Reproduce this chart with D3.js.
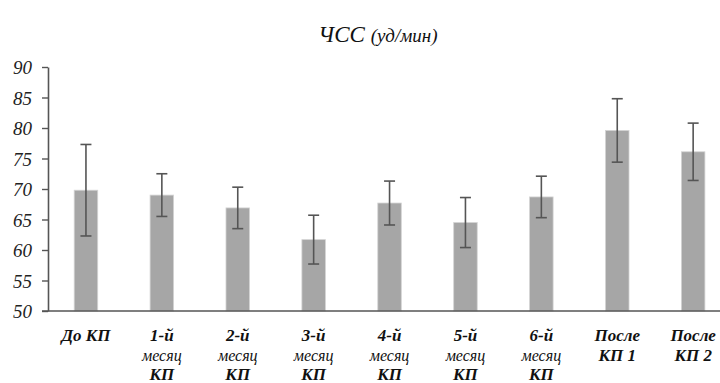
<!DOCTYPE html>
<html><head><meta charset="utf-8"><script src="https://cdn.jsdelivr.net/npm/d3@7"></script></head>
<body style="margin:0">
<script>
// categories (each entry = label lines)
var categories = [
  ["До КП"],
  ["1-й", "месяц", "КП"],
  ["2-й", "месяц", "КП"],
  ["3-й", "месяц", "КП"],
  ["4-й", "месяц", "КП"],
  ["5-й", "месяц", "КП"],
  ["6-й", "месяц", "КП"],
  ["После", "КП 1"],
  ["После", "КП 2"]
];
var means = [69.8, 69.0, 66.9, 61.7, 67.7, 64.5, 68.7, 79.6, 76.1];
var errors = [7.5, 3.5, 3.4, 4.0, 3.6, 4.1, 3.4, 5.2, 4.7];
var yTicks = [50, 55, 60, 65, 70, 75, 80, 85, 90];

var fontName = "Tinos, 'Liberation Serif', 'Times New Roman', FreeSerif, serif";
var width = 720, height = 383;
var margin = { top: 67, left: 48, bottom: 72 };

var svg = d3.select("body").append("svg")
  .attr("width", width)
  .attr("height", height);

var x = d3.scaleBand()
  .domain(d3.range(categories.length))
  .range([margin.left, margin.left + 9 * 75.9])
  .paddingInner(0.69)
  .paddingOuter(0.345);

var y = d3.scaleLinear()
  .domain([50, 90])
  .range([height - margin.bottom, margin.top]);

// title
var title = svg.append("text")
  .attr("x", 378)
  .attr("y", 42)
  .attr("text-anchor", "middle")
  .attr("font-size", 23)
  .attr("fill", "#111")
  .style("font-family", fontName)
  .style("font-style", "italic");
title.append("tspan").text("ЧСС ");
title.append("tspan").attr("font-size", 19).text("(уд/мин)");

// bars
svg.selectAll("rect.bar")
  .data(means)
  .enter().append("rect")
  .attr("class", "bar")
  .attr("x", function (d, i) { return x(i); })
  .attr("width", x.bandwidth())
  .attr("y", function (d) { return y(d); })
  .attr("height", function (d) { return y(50) - y(d); })
  .attr("fill", "#a6a6a6")
  .attr("stroke", "#d4d4d4")
  .attr("stroke-width", 0.8);

// error bars
var err = svg.selectAll("g.err")
  .data(means)
  .enter().append("g")
  .attr("class", "err")
  .attr("stroke", "#555")
  .attr("stroke-width", 1.6);

err.append("line")
  .attr("x1", function (d, i) { return x(i) + x.bandwidth() / 2; })
  .attr("x2", function (d, i) { return x(i) + x.bandwidth() / 2; })
  .attr("y1", function (d, i) { return y(d + errors[i]); })
  .attr("y2", function (d, i) { return y(d - errors[i]); });

[1, -1].forEach(function (s) {
  err.append("line")
    .attr("x1", function (d, i) { return x(i) + x.bandwidth() / 2 - 5.5; })
    .attr("x2", function (d, i) { return x(i) + x.bandwidth() / 2 + 5.5; })
    .attr("y1", function (d, i) { return y(d + s * errors[i]); })
    .attr("y2", function (d, i) { return y(d + s * errors[i]); });
});

// y axis
var yAxis = d3.axisLeft(y)
  .tickValues(yTicks)
  .tickSize(6)
  .tickPadding(10)
  .tickSizeOuter(0);

var gy = svg.append("g")
  .attr("transform", "translate(" + margin.left + ",0)")
  .call(yAxis)
  .attr("font-family", null)
  .attr("font-size", null);
gy.select(".domain").attr("stroke", "#555").attr("stroke-width", 1.6);
gy.selectAll(".tick line").attr("stroke", "#555").attr("stroke-width", 1.4);
gy.selectAll(".tick text")
  .attr("fill", "#222")
  .attr("dy", "0.36em")
  .attr("font-size", 19)
  .style("font-family", fontName)
  .style("font-style", "italic");

// x axis line
svg.append("line")
  .attr("x1", margin.left - 6)
  .attr("x2", width)
  .attr("y1", y(50))
  .attr("y2", y(50))
  .attr("stroke", "#555")
  .attr("stroke-width", 1.6);

// category labels
var labels = svg.selectAll("text.cat-label")
  .data(categories)
  .enter().append("text")
  .attr("class", "cat-label")
  .attr("text-anchor", "middle")
  .attr("font-size", 17)
  .attr("fill", "#111")
  .style("font-family", fontName)
  .style("font-style", "italic")
  .attr("x", function (d, i) { return x(i) + x.bandwidth() / 2; })
  .attr("y", y(50) + 30);

labels.selectAll("tspan")
  .data(function (d) { return d; })
  .enter().append("tspan")
  .attr("x", function () { return d3.select(this.parentNode).attr("x"); })
  .attr("dy", function (d, j) { return j === 0 ? 0 : 19.5; })
  .attr("font-weight", function (d) { return d === "месяц" ? "normal" : "bold"; })
  .attr("font-size", function (d) { return d === "месяц" ? 16 : null; })
  .text(function (d) { return d; });
</script>
</body>
</html>
